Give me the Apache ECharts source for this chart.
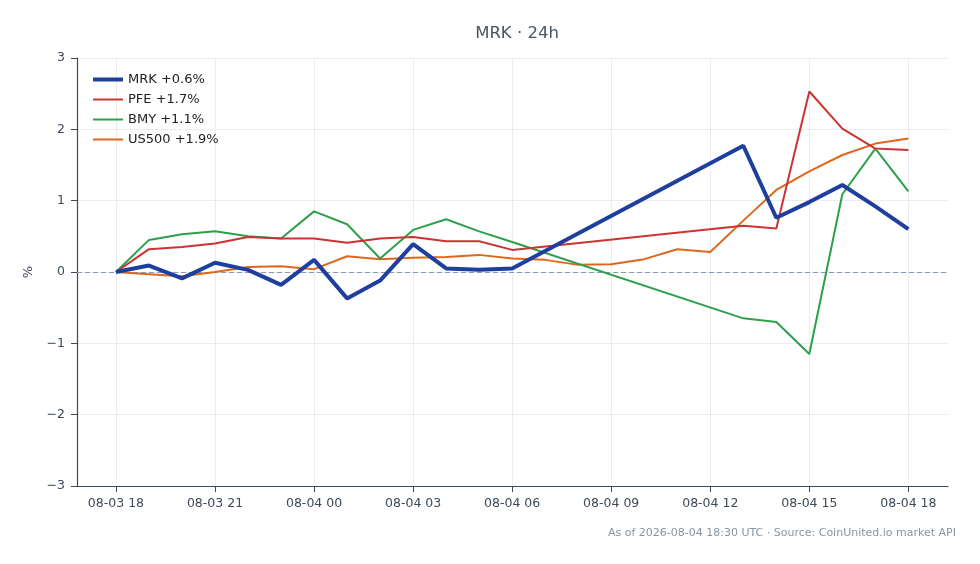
<!DOCTYPE html>
<html>
<head>
<meta charset="utf-8">
<script src="https://cdn.jsdelivr.net/npm/echarts@6/dist/echarts.min.js"></script>
<style>
  html, body { margin: 0; padding: 0; background: #fff; }
  #main { width: 980px; height: 564px; }
</style>
</head>
<body>
<div id="main"></div>
<script>
// hourly timestamps, 08-03 18:00 to 08-04 18:00 UTC
var hours = ['08-03 18', '08-03 19', '08-03 20', '08-03 21', '08-03 22', '08-03 23',
    '08-04 00', '08-04 01', '08-04 02', '08-04 03', '08-04 04', '08-04 05', '08-04 06',
    '08-04 07', '08-04 08', '08-04 09', '08-04 10', '08-04 11', '08-04 12',
    '08-04 13', '08-04 14', '08-04 15', '08-04 16', '08-04 17', '08-04 18'];
var tickHours = [0, 3, 6, 9, 12, 15, 18, 21, 24];

// % change since start; null = no quote that hour
var mrk = [0, 0.09, -0.09, 0.13, 0.03, -0.18, 0.17, -0.37, -0.12, 0.39, 0.05, 0.03, 0.05,
    null, null, null, null, null, null, 1.77, 0.76, 0.98, 1.22, 0.92, 0.60];
var pfe = [0, 0.32, 0.35, 0.40, 0.49, 0.47, 0.47, 0.41, 0.47, 0.49, 0.43, 0.43, 0.31,
    null, null, null, null, null, null, 0.65, 0.61, 2.53, 2.01, 1.73, 1.71];
var bmy = [0, 0.45, 0.53, 0.57, 0.50, 0.47, 0.85, 0.67, 0.19, 0.59, 0.74, 0.57, 0.42,
    null, null, null, null, null, null, -0.65, -0.70, -1.15, 1.09, 1.73, 1.13];
var us500 = [0, -0.03, -0.06, 0.0, 0.07, 0.08, 0.04, 0.22, 0.18, 0.20, 0.21, 0.24, 0.19,
    0.17, 0.10, 0.11, 0.18, 0.32, 0.28, 0.72, 1.15, 1.41, 1.64, 1.80, 1.87];

var names = ['MRK +0.6%', 'PFE +1.7%', 'BMY +1.1%', 'US500 +1.9%'];
var colors = ['#1f3f9f', '#cc3333', '#2ca04b', '#e0661c'];
var widths = [4, 2, 2, 2];
var seriesData = [mrk, pfe, bmy, us500];

function toPoints(arr) {
    var out = [];
    arr.forEach(function (v, i) {
        if (v !== null) out.push([i, v]);
    });
    return out;
}

var axisColor = '#3d4a5a';
var gridColor = '#e9edf1';

var series = seriesData.map(function (arr, k) {
    return {
        name: names[k],
        type: 'line',
        data: toPoints(arr),
        showSymbol: false,
        symbol: 'none',
        z: 10 - k,
        color: colors[k],
        lineStyle: { color: colors[k], width: widths[k] },
        itemStyle: { color: colors[k] },
        emphasis: { disabled: true }
    };
});
// zero reference line
series[0].markLine = {
    silent: true,
    symbol: 'none',
    label: { show: false },
    lineStyle: { color: '#8a9bb2', type: [5, 3], width: 1 },
    data: [{ yAxis: 0 }]
};

var myChart = echarts.init(document.getElementById('main'));
var option = {
    animation: false,
    backgroundColor: '#fff',
    textStyle: { fontFamily: 'DejaVu Sans' },
    title: {
        text: 'MRK · 24h',
        left: 512,
        top: 20,
        textAlign: 'center',
        textStyle: { color: '#4a5563', fontSize: 16.5, fontWeight: 'normal', fontFamily: 'DejaVu Sans' }
    },
    legend: {
        orient: 'vertical',
        left: 86,
        top: 68,
        itemWidth: 30,
        itemHeight: 14,
        itemGap: 7,
        data: names.map(function (n, k) {
            return { name: n, lineStyle: { color: colors[k], width: widths[k] } };
        }),
        itemStyle: { opacity: 0 },
        textStyle: { color: '#222', fontSize: 13, fontFamily: 'DejaVu Sans' }
    },
    grid: { left: 77, right: 32, top: 58, bottom: 78 },
    xAxis: {
        type: 'value',
        min: -1.18,
        max: 25.2,
        axisLine: { show: true, onZero: false, lineStyle: { color: axisColor, width: 1.2 } },
        axisTick: { show: true, length: 6, customValues: tickHours, lineStyle: { color: axisColor } },
        axisLabel: {
            customValues: tickHours,
            color: axisColor,
            fontSize: 12.5,
            margin: 11,
            fontFamily: 'DejaVu Sans',
            formatter: function (v) { return hours[Math.round(v)]; }
        },
        splitLine: { show: true, lineStyle: { color: gridColor } }
    },
    yAxis: {
        type: 'value',
        min: -3,
        max: 3,
        interval: 1,
        name: '%',
        nameLocation: 'middle',
        nameGap: 42,
        nameTextStyle: { color: axisColor, fontSize: 13, fontFamily: 'DejaVu Sans' },
        axisLine: { show: true, onZero: false, lineStyle: { color: axisColor, width: 1.2 } },
        axisTick: { show: true, length: 6, lineStyle: { color: axisColor } },
        axisLabel: {
            color: axisColor,
            fontSize: 12.5,
            margin: 12,
            fontFamily: 'DejaVu Sans',
            formatter: function (v) { return v < 0 ? '\u2212' + Math.abs(v) : String(v); }
        },
        splitLine: { show: true, lineStyle: { color: gridColor } }
    },
    graphic: [{
        type: 'text',
        right: 24,
        top: 528,
        style: {
            text: 'As of 2026-08-04 18:30 UTC · Source: CoinUnited.io market API',
            fill: '#8a94a0',
            fontSize: 11,
            fontFamily: 'DejaVu Sans'
        }
    }],
    series: series
};
myChart.setOption(option);
window.addEventListener('resize', function () {
    myChart.resize();
});
</script>
</body>
</html>
